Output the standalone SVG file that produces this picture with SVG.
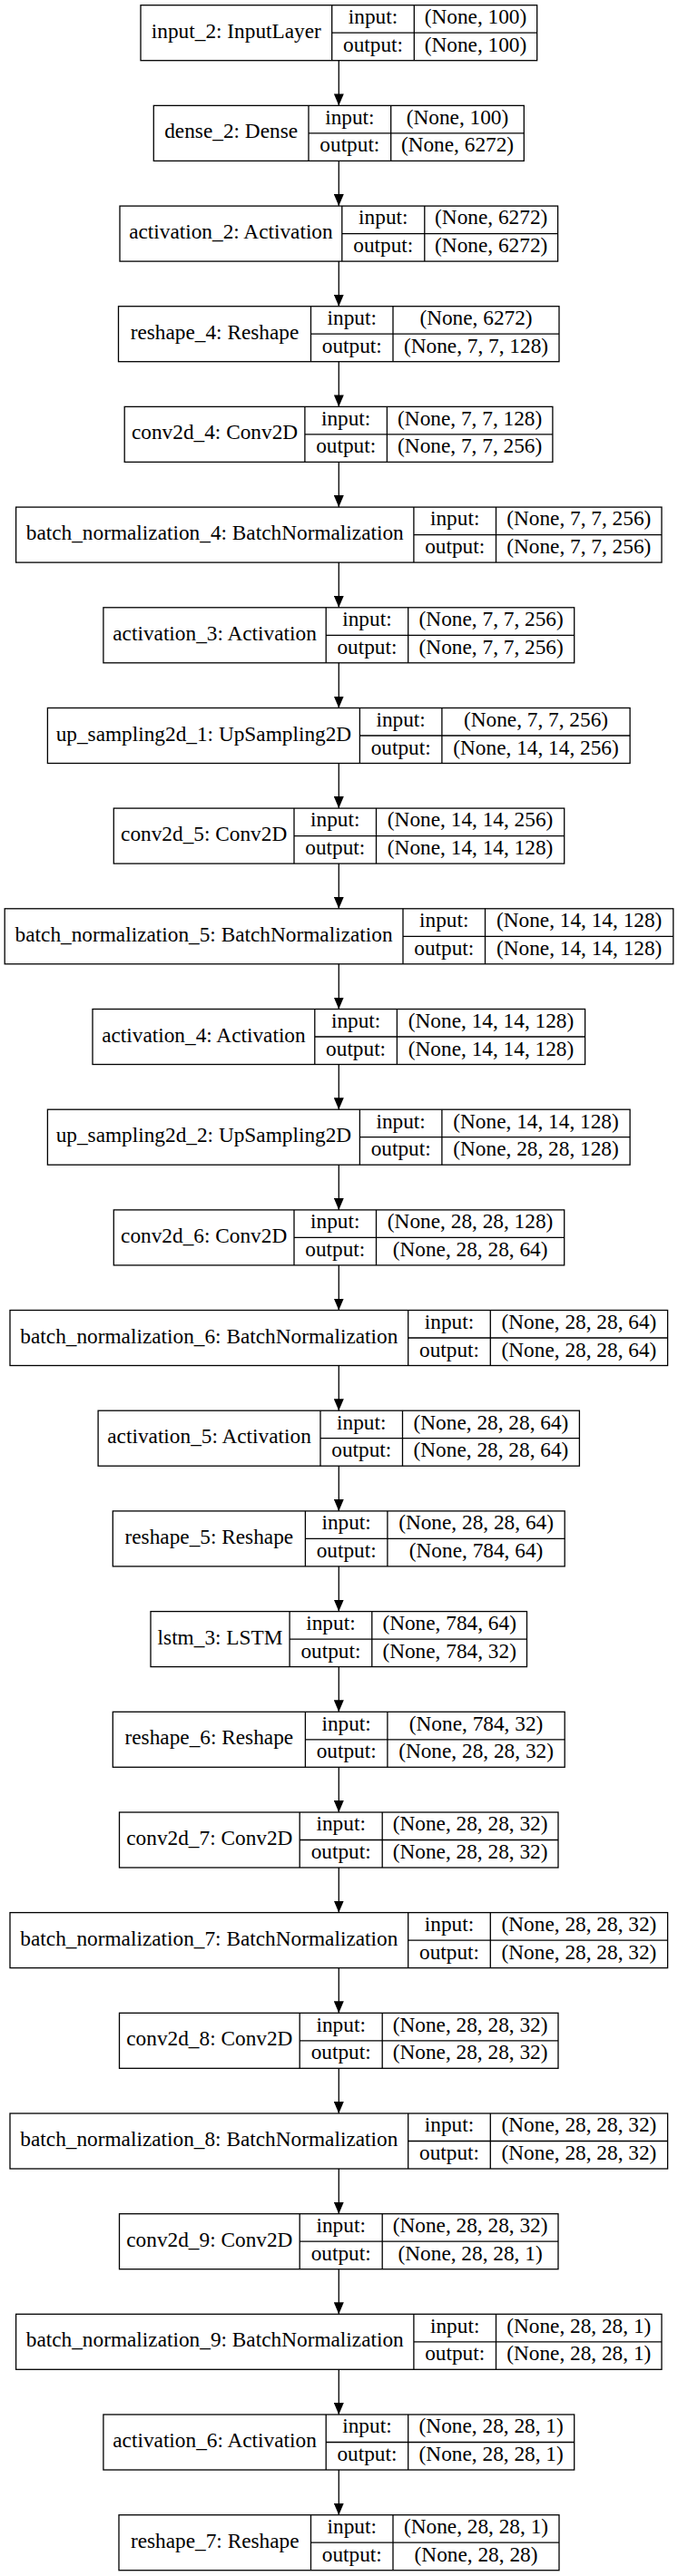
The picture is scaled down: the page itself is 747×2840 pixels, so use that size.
<svg xmlns="http://www.w3.org/2000/svg" width="747" height="2840" viewBox="0 0 747 2840">
<style>
.b{fill:none;stroke:#000;stroke-width:1.3}
.t{font-family:"Liberation Serif","Times New Roman",serif;font-size:23.3px;fill:#000;text-anchor:middle}
.e{stroke:#000;stroke-width:1.3;fill:none}
</style>
<defs>
<marker id="ah" markerUnits="userSpaceOnUse" markerWidth="13" markerHeight="11" refX="13" refY="5.5" orient="auto">
<path d="M0,0 L13,5.5 L0,11 z" fill="#000"/>
</marker>
</defs>
<rect width="747" height="2840" fill="#fff"/>
<g id="edges">
<path class="e" marker-end="url(#ah)" d="M373.3,66.7 V116.4"/>
<path class="e" marker-end="url(#ah)" d="M373.3,177.4 V227.1"/>
<path class="e" marker-end="url(#ah)" d="M373.3,288.1 V337.7"/>
<path class="e" marker-end="url(#ah)" d="M373.3,398.7 V448.4"/>
<path class="e" marker-end="url(#ah)" d="M373.3,509.4 V559.1"/>
<path class="e" marker-end="url(#ah)" d="M373.3,620.1 V669.8"/>
<path class="e" marker-end="url(#ah)" d="M373.3,730.8 V780.5"/>
<path class="e" marker-end="url(#ah)" d="M373.3,841.5 V891.1"/>
<path class="e" marker-end="url(#ah)" d="M373.3,952.1 V1001.8"/>
<path class="e" marker-end="url(#ah)" d="M373.3,1062.8 V1112.5"/>
<path class="e" marker-end="url(#ah)" d="M373.3,1173.5 V1223.2"/>
<path class="e" marker-end="url(#ah)" d="M373.3,1284.2 V1333.9"/>
<path class="e" marker-end="url(#ah)" d="M373.3,1394.9 V1444.5"/>
<path class="e" marker-end="url(#ah)" d="M373.3,1505.5 V1555.2"/>
<path class="e" marker-end="url(#ah)" d="M373.3,1616.2 V1665.9"/>
<path class="e" marker-end="url(#ah)" d="M373.3,1726.9 V1776.6"/>
<path class="e" marker-end="url(#ah)" d="M373.3,1837.6 V1887.3"/>
<path class="e" marker-end="url(#ah)" d="M373.3,1948.3 V1998.0"/>
<path class="e" marker-end="url(#ah)" d="M373.3,2059.0 V2108.6"/>
<path class="e" marker-end="url(#ah)" d="M373.3,2169.6 V2219.3"/>
<path class="e" marker-end="url(#ah)" d="M373.3,2280.3 V2330.0"/>
<path class="e" marker-end="url(#ah)" d="M373.3,2391.0 V2440.7"/>
<path class="e" marker-end="url(#ah)" d="M373.3,2501.7 V2551.3"/>
<path class="e" marker-end="url(#ah)" d="M373.3,2612.3 V2662.0"/>
<path class="e" marker-end="url(#ah)" d="M373.3,2723.0 V2772.7"/>
</g>
<g id="n0" transform="translate(0,5.7)"><rect class="b" x="155" y="0" width="436.7" height="61"/><path class="b" d="M365.7,0V61M456.3,0V61M365.7,30.5H591.7"/><text class="t" x="260.35" y="36">input_2: InputLayer</text><text class="t" x="411" y="20.3">input:</text><text class="t" x="411" y="51">output:</text><text class="t" x="524" y="20.3">(None, 100)</text><text class="t" x="524" y="51">(None, 100)</text></g>
<g id="n1" transform="translate(0,116.4)"><rect class="b" x="169.3" y="0" width="408" height="61"/><path class="b" d="M340,0V61M430.7,0V61M340,30.5H577.3"/><text class="t" x="254.65" y="36">dense_2: Dense</text><text class="t" x="385.35" y="20.3">input:</text><text class="t" x="385.35" y="51">output:</text><text class="t" x="504" y="20.3">(None, 100)</text><text class="t" x="504" y="51">(None, 6272)</text></g>
<g id="n2" transform="translate(0,227.1)"><rect class="b" x="132" y="0" width="482.6" height="61"/><path class="b" d="M376.8,0V61M467.8,0V61M376.8,30.5H614.6"/><text class="t" x="254.4" y="36">activation_2: Activation</text><text class="t" x="422.3" y="20.3">input:</text><text class="t" x="422.3" y="51">output:</text><text class="t" x="541.2" y="20.3">(None, 6272)</text><text class="t" x="541.2" y="51">(None, 6272)</text></g>
<g id="n3" transform="translate(0,337.7)"><rect class="b" x="130.5" y="0" width="485.5" height="61"/><path class="b" d="M342.5,0V61M433,0V61M342.5,30.5H616"/><text class="t" x="236.5" y="36">reshape_4: Reshape</text><text class="t" x="387.75" y="20.3">input:</text><text class="t" x="387.75" y="51">output:</text><text class="t" x="524.5" y="20.3">(None, 6272)</text><text class="t" x="524.5" y="51">(None, 7, 7, 128)</text></g>
<g id="n4" transform="translate(0,448.4)"><rect class="b" x="137.2" y="0" width="471.7" height="61"/><path class="b" d="M335.9,0V61M426.4,0V61M335.9,30.5H608.9"/><text class="t" x="236.55" y="36">conv2d_4: Conv2D</text><text class="t" x="381.15" y="20.3">input:</text><text class="t" x="381.15" y="51">output:</text><text class="t" x="517.65" y="20.3">(None, 7, 7, 128)</text><text class="t" x="517.65" y="51">(None, 7, 7, 256)</text></g>
<g id="n5" transform="translate(0,559.1)"><rect class="b" x="17.6" y="0" width="711.4" height="61"/><path class="b" d="M455.9,0V61M546.5,0V61M455.9,30.5H729"/><text class="t" x="236.75" y="36">batch_normalization_4: BatchNormalization</text><text class="t" x="501.2" y="20.3">input:</text><text class="t" x="501.2" y="51">output:</text><text class="t" x="637.75" y="20.3">(None, 7, 7, 256)</text><text class="t" x="637.75" y="51">(None, 7, 7, 256)</text></g>
<g id="n6" transform="translate(0,669.8)"><rect class="b" x="113.9" y="0" width="518.8" height="61"/><path class="b" d="M359.2,0V61M449.7,0V61M359.2,30.5H632.7"/><text class="t" x="236.55" y="36">activation_3: Activation</text><text class="t" x="404.45" y="20.3">input:</text><text class="t" x="404.45" y="51">output:</text><text class="t" x="541.2" y="20.3">(None, 7, 7, 256)</text><text class="t" x="541.2" y="51">(None, 7, 7, 256)</text></g>
<g id="n7" transform="translate(0,780.5)"><rect class="b" x="52.4" y="0" width="641.7" height="61"/><path class="b" d="M396.4,0V61M486.9,0V61M396.4,30.5H694.1"/><text class="t" x="224.4" y="36">up_sampling2d_1: UpSampling2D</text><text class="t" x="441.65" y="20.3">input:</text><text class="t" x="441.65" y="51">output:</text><text class="t" x="590.5" y="20.3">(None, 7, 7, 256)</text><text class="t" x="590.5" y="51">(None, 14, 14, 256)</text></g>
<g id="n8" transform="translate(0,891.1)"><rect class="b" x="125.3" y="0" width="496.4" height="61"/><path class="b" d="M324,0V61M414.5,0V61M324,30.5H621.7"/><text class="t" x="224.65" y="36">conv2d_5: Conv2D</text><text class="t" x="369.25" y="20.3">input:</text><text class="t" x="369.25" y="51">output:</text><text class="t" x="518.1" y="20.3">(None, 14, 14, 256)</text><text class="t" x="518.1" y="51">(None, 14, 14, 128)</text></g>
<g id="n9" transform="translate(0,1001.8)"><rect class="b" x="5.2" y="0" width="736.6" height="61"/><path class="b" d="M444,0V61M534.5,0V61M444,30.5H741.8"/><text class="t" x="224.6" y="36">batch_normalization_5: BatchNormalization</text><text class="t" x="489.25" y="20.3">input:</text><text class="t" x="489.25" y="51">output:</text><text class="t" x="638.15" y="20.3">(None, 14, 14, 128)</text><text class="t" x="638.15" y="51">(None, 14, 14, 128)</text></g>
<g id="n10" transform="translate(0,1112.5)"><rect class="b" x="102" y="0" width="542.6" height="61"/><path class="b" d="M346.8,0V61M437.4,0V61M346.8,30.5H644.6"/><text class="t" x="224.4" y="36">activation_4: Activation</text><text class="t" x="392.1" y="20.3">input:</text><text class="t" x="392.1" y="51">output:</text><text class="t" x="541" y="20.3">(None, 14, 14, 128)</text><text class="t" x="541" y="51">(None, 14, 14, 128)</text></g>
<g id="n11" transform="translate(0,1223.2)"><rect class="b" x="52.4" y="0" width="641.7" height="61"/><path class="b" d="M396.4,0V61M486.9,0V61M396.4,30.5H694.1"/><text class="t" x="224.4" y="36">up_sampling2d_2: UpSampling2D</text><text class="t" x="441.65" y="20.3">input:</text><text class="t" x="441.65" y="51">output:</text><text class="t" x="590.5" y="20.3">(None, 14, 14, 128)</text><text class="t" x="590.5" y="51">(None, 28, 28, 128)</text></g>
<g id="n12" transform="translate(0,1333.9)"><rect class="b" x="125.3" y="0" width="496.4" height="61"/><path class="b" d="M324,0V61M414.5,0V61M324,30.5H621.7"/><text class="t" x="224.65" y="36">conv2d_6: Conv2D</text><text class="t" x="369.25" y="20.3">input:</text><text class="t" x="369.25" y="51">output:</text><text class="t" x="518.1" y="20.3">(None, 28, 28, 128)</text><text class="t" x="518.1" y="51">(None, 28, 28, 64)</text></g>
<g id="n13" transform="translate(0,1444.5)"><rect class="b" x="11" y="0" width="724.6" height="61"/><path class="b" d="M449.7,0V61M540.3,0V61M449.7,30.5H735.6"/><text class="t" x="230.35" y="36">batch_normalization_6: BatchNormalization</text><text class="t" x="495" y="20.3">input:</text><text class="t" x="495" y="51">output:</text><text class="t" x="637.95" y="20.3">(None, 28, 28, 64)</text><text class="t" x="637.95" y="51">(None, 28, 28, 64)</text></g>
<g id="n14" transform="translate(0,1555.2)"><rect class="b" x="108.1" y="0" width="530.3" height="61"/><path class="b" d="M353,0V61M443.5,0V61M353,30.5H638.4"/><text class="t" x="230.55" y="36">activation_5: Activation</text><text class="t" x="398.25" y="20.3">input:</text><text class="t" x="398.25" y="51">output:</text><text class="t" x="540.95" y="20.3">(None, 28, 28, 64)</text><text class="t" x="540.95" y="51">(None, 28, 28, 64)</text></g>
<g id="n15" transform="translate(0,1665.9)"><rect class="b" x="124.3" y="0" width="497.9" height="61"/><path class="b" d="M336.4,0V61M426.9,0V61M336.4,30.5H622.2"/><text class="t" x="230.35" y="36">reshape_5: Reshape</text><text class="t" x="381.65" y="20.3">input:</text><text class="t" x="381.65" y="51">output:</text><text class="t" x="524.55" y="20.3">(None, 28, 28, 64)</text><text class="t" x="524.55" y="51">(None, 784, 64)</text></g>
<g id="n16" transform="translate(0,1776.6)"><rect class="b" x="166" y="0" width="414.5" height="61"/><path class="b" d="M319.1,0V61M409.8,0V61M319.1,30.5H580.5"/><text class="t" x="242.55" y="36">lstm_3: LSTM</text><text class="t" x="364.45" y="20.3">input:</text><text class="t" x="364.45" y="51">output:</text><text class="t" x="495.15" y="20.3">(None, 784, 64)</text><text class="t" x="495.15" y="51">(None, 784, 32)</text></g>
<g id="n17" transform="translate(0,1887.3)"><rect class="b" x="124.3" y="0" width="497.9" height="61"/><path class="b" d="M336.4,0V61M426.9,0V61M336.4,30.5H622.2"/><text class="t" x="230.35" y="36">reshape_6: Reshape</text><text class="t" x="381.65" y="20.3">input:</text><text class="t" x="381.65" y="51">output:</text><text class="t" x="524.55" y="20.3">(None, 784, 32)</text><text class="t" x="524.55" y="51">(None, 28, 28, 32)</text></g>
<g id="n18" transform="translate(0,1998)"><rect class="b" x="131.5" y="0" width="483.5" height="61"/><path class="b" d="M330.2,0V61M421.2,0V61M330.2,30.5H615"/><text class="t" x="230.85" y="36">conv2d_7: Conv2D</text><text class="t" x="375.7" y="20.3">input:</text><text class="t" x="375.7" y="51">output:</text><text class="t" x="518.1" y="20.3">(None, 28, 28, 32)</text><text class="t" x="518.1" y="51">(None, 28, 28, 32)</text></g>
<g id="n19" transform="translate(0,2108.6)"><rect class="b" x="11" y="0" width="724.6" height="61"/><path class="b" d="M449.7,0V61M540.3,0V61M449.7,30.5H735.6"/><text class="t" x="230.35" y="36">batch_normalization_7: BatchNormalization</text><text class="t" x="495" y="20.3">input:</text><text class="t" x="495" y="51">output:</text><text class="t" x="637.95" y="20.3">(None, 28, 28, 32)</text><text class="t" x="637.95" y="51">(None, 28, 28, 32)</text></g>
<g id="n20" transform="translate(0,2219.3)"><rect class="b" x="131.5" y="0" width="483.5" height="61"/><path class="b" d="M330.2,0V61M421.2,0V61M330.2,30.5H615"/><text class="t" x="230.85" y="36">conv2d_8: Conv2D</text><text class="t" x="375.7" y="20.3">input:</text><text class="t" x="375.7" y="51">output:</text><text class="t" x="518.1" y="20.3">(None, 28, 28, 32)</text><text class="t" x="518.1" y="51">(None, 28, 28, 32)</text></g>
<g id="n21" transform="translate(0,2330)"><rect class="b" x="11" y="0" width="724.6" height="61"/><path class="b" d="M449.7,0V61M540.3,0V61M449.7,30.5H735.6"/><text class="t" x="230.35" y="36">batch_normalization_8: BatchNormalization</text><text class="t" x="495" y="20.3">input:</text><text class="t" x="495" y="51">output:</text><text class="t" x="637.95" y="20.3">(None, 28, 28, 32)</text><text class="t" x="637.95" y="51">(None, 28, 28, 32)</text></g>
<g id="n22" transform="translate(0,2440.7)"><rect class="b" x="131.5" y="0" width="483.5" height="61"/><path class="b" d="M330.2,0V61M421.2,0V61M330.2,30.5H615"/><text class="t" x="230.85" y="36">conv2d_9: Conv2D</text><text class="t" x="375.7" y="20.3">input:</text><text class="t" x="375.7" y="51">output:</text><text class="t" x="518.1" y="20.3">(None, 28, 28, 32)</text><text class="t" x="518.1" y="51">(None, 28, 28, 1)</text></g>
<g id="n23" transform="translate(0,2551.3)"><rect class="b" x="17.6" y="0" width="711.4" height="61"/><path class="b" d="M455.9,0V61M546.5,0V61M455.9,30.5H729"/><text class="t" x="236.75" y="36">batch_normalization_9: BatchNormalization</text><text class="t" x="501.2" y="20.3">input:</text><text class="t" x="501.2" y="51">output:</text><text class="t" x="637.75" y="20.3">(None, 28, 28, 1)</text><text class="t" x="637.75" y="51">(None, 28, 28, 1)</text></g>
<g id="n24" transform="translate(0,2662)"><rect class="b" x="113.9" y="0" width="518.8" height="61"/><path class="b" d="M359.2,0V61M449.7,0V61M359.2,30.5H632.7"/><text class="t" x="236.55" y="36">activation_6: Activation</text><text class="t" x="404.45" y="20.3">input:</text><text class="t" x="404.45" y="51">output:</text><text class="t" x="541.2" y="20.3">(None, 28, 28, 1)</text><text class="t" x="541.2" y="51">(None, 28, 28, 1)</text></g>
<g id="n25" transform="translate(0,2772.7)"><rect class="b" x="131" y="0" width="485" height="61"/><path class="b" d="M342.5,0V61M433,0V61M342.5,30.5H616"/><text class="t" x="236.75" y="36">reshape_7: Reshape</text><text class="t" x="387.75" y="20.3">input:</text><text class="t" x="387.75" y="51">output:</text><text class="t" x="524.5" y="20.3">(None, 28, 28, 1)</text><text class="t" x="524.5" y="51">(None, 28, 28)</text></g>
</svg>
